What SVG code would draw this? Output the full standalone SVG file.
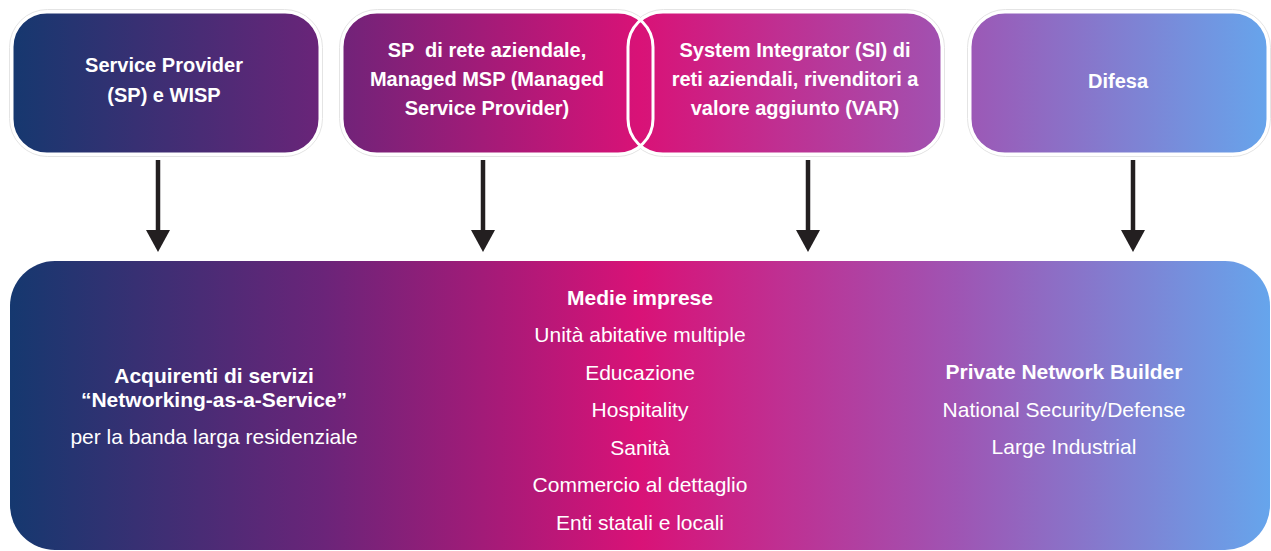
<svg xmlns="http://www.w3.org/2000/svg" width="1271" height="551" viewBox="0 0 1271 551">
  <defs>
    <linearGradient id="g" gradientUnits="userSpaceOnUse" x1="10" y1="0" x2="1270" y2="0">
      <stop offset="0" stop-color="#15386f"/>
      <stop offset="0.25" stop-color="#6b2479"/>
      <stop offset="0.5" stop-color="#d91277"/>
      <stop offset="0.75" stop-color="#9f54b3"/>
      <stop offset="1" stop-color="#66a5ec"/>
    </linearGradient>
    <marker id="ah" markerUnits="userSpaceOnUse" markerWidth="22" markerHeight="24" viewBox="0 0 22 24" refX="1" refY="12" orient="auto">
      <path d="M0,0 L22,12 L0,24 z" fill="#231f20"/>
    </marker>
    <style>
      .halo { fill: none; stroke: #e4e4e4; stroke-width: 1; }
      .box { fill: url(#g); }
      .edge { fill: none; stroke: #ffffff; stroke-width: 3; }
      .t { font-family: "Liberation Sans", Arial, sans-serif; fill: #ffffff; text-anchor: middle; }
      .pre { white-space: pre; }
      .tb { font-size: 20px; font-weight: bold; }
      .bb { font-size: 21px; font-weight: bold; }
      .br { font-size: 21px; }
      .arrow { stroke: #231f20; stroke-width: 4.5; fill: none; marker-end: url(#ah); }
    </style>
  </defs>
  <rect width="1271" height="551" fill="#ffffff"/>

  <!-- halos of top boxes -->
  <g id="halos">
    <rect class="halo" x="9.5" y="9.5" width="313" height="147" rx="38"/>
    <rect class="halo" x="339.5" y="9.5" width="316" height="147" rx="38"/>
    <rect class="halo" x="625.5" y="9.5" width="319" height="147" rx="38"/>
    <rect class="halo" x="967.5" y="9.5" width="303" height="147" rx="38"/>
  </g>

  <g id="node-sp">
    <rect class="box" x="12" y="12" width="308" height="142" rx="35"/>
    <rect class="edge" x="12" y="12" width="308" height="142" rx="35"/>
    <text class="t tb" x="164" y="72">Service Provider</text>
    <text class="t tb" x="164" y="102">(SP) e WISP</text>
  </g>

  <g id="node-msp">
    <rect class="box" x="342" y="12" width="311" height="142" rx="35"/>
    <text class="t tb pre" x="487" y="57" xml:space="preserve">SP  di rete aziendale,</text>
    <text class="t tb" x="487" y="86">Managed MSP (Managed</text>
    <text class="t tb" x="487" y="115">Service Provider)</text>
  </g>

  <g id="node-si">
    <rect class="box" x="628" y="12" width="314" height="142" rx="35"/>
    <text class="t tb" x="795" y="57">System Integrator (SI) di</text>
    <text class="t tb" x="795" y="86">reti aziendali, rivenditori a</text>
    <text class="t tb" x="795" y="115">valore aggiunto (VAR)</text>
  </g>

  <g id="edges-msp-si">
    <rect class="edge" x="342" y="12" width="311" height="142" rx="35"/>
    <rect class="edge" x="628" y="12" width="314" height="142" rx="35"/>
  </g>

  <g id="node-difesa">
    <rect class="box" x="970" y="12" width="298" height="142" rx="35"/>
    <rect class="edge" x="970" y="12" width="298" height="142" rx="35"/>
    <text class="t tb" x="1118" y="88">Difesa</text>
  </g>

  <g id="connectors">
    <line class="arrow" x1="158" y1="160" x2="158" y2="231"/>
    <line class="arrow" x1="483" y1="160" x2="483" y2="231"/>
    <line class="arrow" x1="808" y1="160" x2="808" y2="231"/>
    <line class="arrow" x1="1133" y1="160" x2="1133" y2="231"/>
  </g>

  <g id="node-markets">
    <rect class="box" x="10" y="261" width="1260" height="289" rx="45"/>
    <text class="t bb" x="214" y="383">Acquirenti di servizi</text>
    <text class="t bb" x="214" y="407">“Networking-as-a-Service”</text>
    <text class="t br" x="214" y="444">per la banda larga residenziale</text>

    <text class="t bb" x="640" y="305">Medie imprese</text>
    <text class="t br" x="640" y="342">Unità abitative multiple</text>
    <text class="t br" x="640" y="380">Educazione</text>
    <text class="t br" x="640" y="417">Hospitality</text>
    <text class="t br" x="640" y="455">Sanità</text>
    <text class="t br" x="640" y="492">Commercio al dettaglio</text>
    <text class="t br" x="640" y="530">Enti statali e locali</text>

    <text class="t bb" x="1064" y="379">Private Network Builder</text>
    <text class="t br" x="1064" y="417">National Security/Defense</text>
    <text class="t br" x="1064" y="454">Large Industrial</text>
  </g>
</svg>
